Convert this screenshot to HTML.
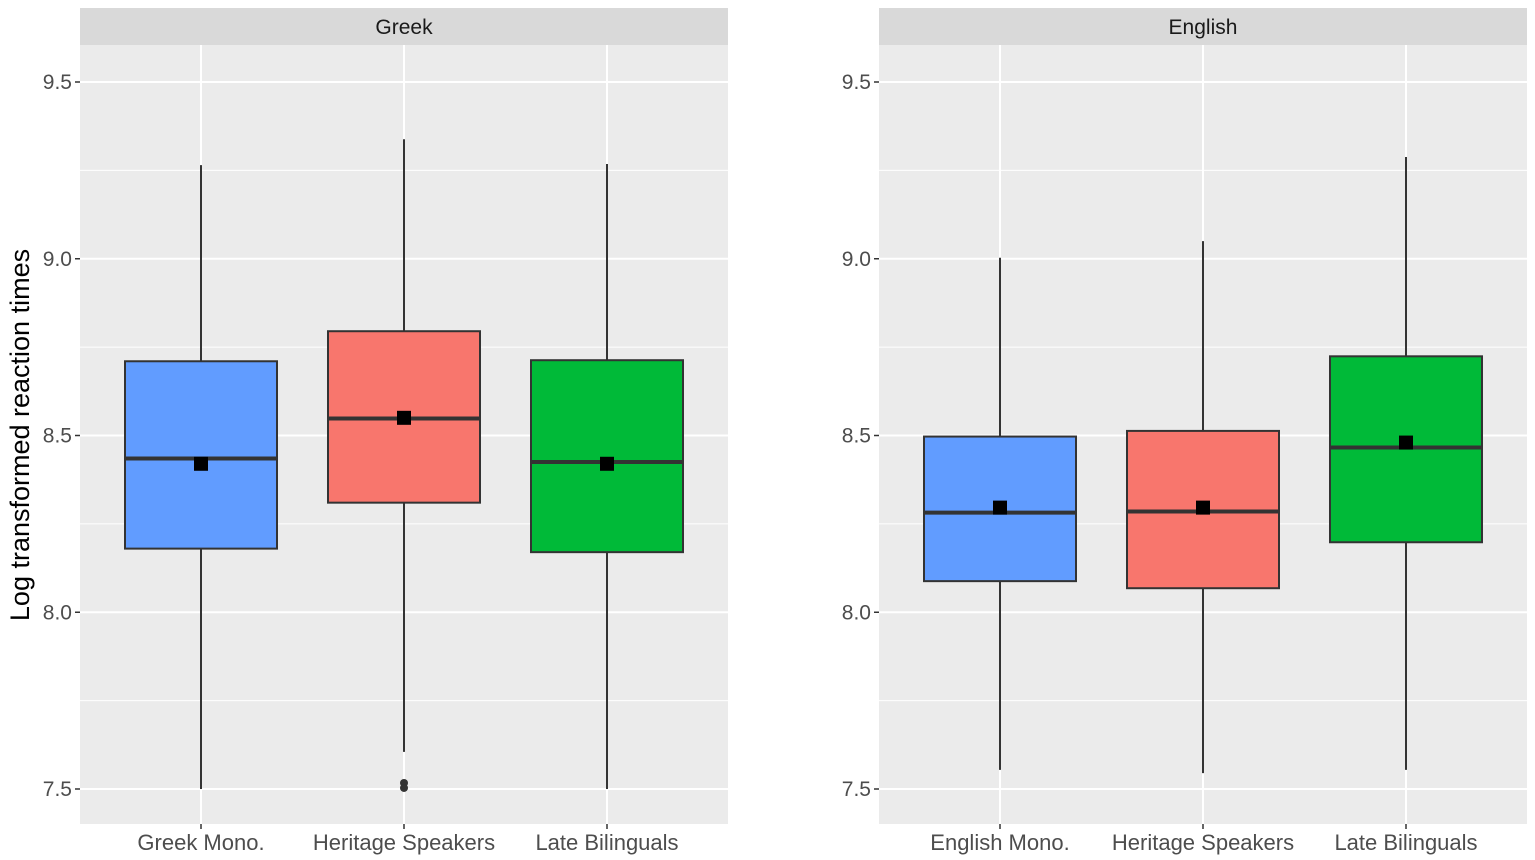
<!DOCTYPE html>
<html><head><meta charset="utf-8"><style>
body{margin:0;background:#fff;}
svg{display:block;font-family:"Liberation Sans",sans-serif;}
</style></head><body>
<svg id="chart" width="1535" height="860"></svg>
<script>
const panels=["Greek","English"];
const categories=[["Greek Mono.","Heritage Speakers","Late Bilinguals"],["English Mono.","Heritage Speakers","Late Bilinguals"]];
const q1=[[8.18,8.31,8.17],[8.088,8.068,8.198]];
const medians=[[8.435,8.548,8.425],[8.282,8.285,8.466]];
const q3=[[8.71,8.795,8.713],[8.497,8.513,8.724]];
const whiskLo=[[7.5,7.605,7.5],[7.554,7.545,7.554]];
const whiskHi=[[9.265,9.338,9.268],[9.003,9.05,9.288]];
const means=[[8.42,8.55,8.42],[8.296,8.296,8.48]];
const outliers=[[[],[7.517,7.503],[]],[[],[],[]]];
const yTicks=[7.5,8.0,8.5,9.0,9.5];
const yTickLabels=["7.5","8.0","8.5","9.0","9.5"];
const colors=["#619cff","#f8766d","#00ba38"];
const svg=document.getElementById('chart');
const NS="http://www.w3.org/2000/svg";
function mk(t,a,p){const e=document.createElementNS(NS,t);for(const k in a)e.setAttribute(k,a[k]);(p||svg).appendChild(e);return e;}
const y=v=>789-(v-7.5)*353.5;
const panelX=[80,879], pw=648, plotTop=45, plotBot=824;
const x=(p,i)=>panelX[p]+121+i*203;
panels.forEach((name,p)=>{
  const g=mk('g',{});
  
  
  const bg=mk('rect',{x:panelX[p],y:plotTop,width:pw,height:plotBot-plotTop,fill:'#ebebeb'},g);
  
  const st=mk('rect',{x:panelX[p],y:8,width:pw,height:37,fill:'#d9d9d9'},g);
  
  const stt=mk('text',{x:panelX[p]+pw/2,y:34,'text-anchor':'middle','font-size':21,fill:'#1a1a1a'},g);stt.textContent=name;
  
  for(let i=0;i<yTicks.length-1;i++){const m=(yTicks[i]+yTicks[i+1])/2;mk('line',{x1:panelX[p],x2:panelX[p]+pw,y1:y(m),y2:y(m),stroke:'#fff','stroke-width':1},g);}
  yTicks.forEach((t,i)=>{
    mk('line',{x1:panelX[p],x2:panelX[p]+pw,y1:y(t),y2:y(t),stroke:'#fff','stroke-width':2},g);
    mk('line',{x1:panelX[p]-5,x2:panelX[p],y1:y(t),y2:y(t),stroke:'#333','stroke-width':1.5},g);
    const tl=mk('text',{x:panelX[p]-8,y:y(t)+7,'text-anchor':'end','font-size':21,fill:'#4d4d4d'},g);tl.textContent=yTickLabels[i];
    
  });
  categories[p].forEach((c,i)=>{
    const cx=x(p,i);
    mk('line',{x1:cx,x2:cx,y1:plotTop,y2:plotBot,stroke:'#fff','stroke-width':2},g);
    mk('line',{x1:cx,x2:cx,y1:plotBot,y2:plotBot+5,stroke:'#333','stroke-width':1.5},g);
    const xl=mk('text',{x:cx,y:850,'text-anchor':'middle','font-size':22,fill:'#4d4d4d'},g);xl.textContent=c;
    
  });
  categories[p].forEach((c,i)=>{
    const cx=x(p,i);
    const wl=mk('line',{x1:cx,x2:cx,y1:y(whiskLo[p][i]),y2:y(whiskHi[p][i]),stroke:'#333','stroke-width':2},g);
    
    const b=mk('rect',{x:cx-76,y:y(q3[p][i]),width:152,height:y(q1[p][i])-y(q3[p][i]),fill:colors[i],stroke:'#333','stroke-width':2},g);
    
    const md=mk('line',{x1:cx-76,x2:cx+76,y1:y(medians[p][i]),y2:y(medians[p][i]),stroke:'#333','stroke-width':4},g);
    
    const mn=mk('rect',{x:cx-7,y:y(means[p][i])-7,width:14,height:14,fill:'#000'},g);
    
    outliers[p][i].forEach(o=>{const oc=mk('circle',{cx:cx,cy:y(o),r:4,fill:'#333'},g);
      });
  });
});
const yl=mk('text',{x:0,y:0,transform:'translate(29,435) rotate(-90)','text-anchor':'middle','font-size':27,fill:'#000'});
yl.textContent='Log transformed reaction times';

</script>
</body></html>
